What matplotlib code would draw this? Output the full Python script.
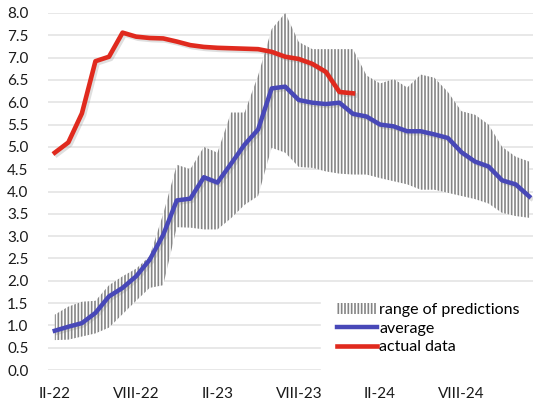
import matplotlib
matplotlib.use("Agg")
import matplotlib.pyplot as plt
import matplotlib.patheffects as pe
import numpy as np

# months from II-22 (index 0) to I-25 (index 35)
months = list(range(36))

actual = [4.87, 5.10, 5.75, 6.92, 7.02, 7.56, 7.47, 7.44, 7.43, 7.36, 7.28, 7.24,
          7.22, 7.21, 7.20, 7.19, 7.13, 7.02, 6.97, 6.86, 6.68, 6.23, 6.20]

average = [0.88, 0.97, 1.05, 1.28, 1.65, 1.84, 2.10, 2.47, 3.03, 3.80, 3.84, 4.32,
           4.20, 4.62, 5.05, 5.39, 6.31, 6.35, 6.05, 5.99, 5.96, 5.99, 5.74, 5.68,
           5.50, 5.46, 5.35, 5.35, 5.28, 5.20, 4.88, 4.67, 4.56, 4.25, 4.16, 3.89]

upper = [1.24, 1.42, 1.53, 1.55, 1.90, 2.10, 2.27, 2.55, 3.50, 4.60, 4.50, 5.00,
         4.87, 5.77, 5.77, 6.60, 7.64, 8.00, 7.35, 7.19, 7.19, 7.19, 7.19, 6.60,
         6.42, 6.52, 6.33, 6.62, 6.55, 6.23, 5.80, 5.72, 5.50, 5.00, 4.78, 4.67]

lower = [0.67, 0.68, 0.75, 0.82, 0.95, 1.25, 1.55, 1.84, 1.90, 3.20, 3.19, 3.15,
         3.15, 3.40, 3.70, 3.90, 4.98, 4.87, 4.55, 4.53, 4.45, 4.40, 4.38, 4.38,
         4.30, 4.23, 4.16, 4.04, 4.04, 3.97, 3.90, 3.83, 3.73, 3.52, 3.45, 3.41]

tick_pos = [0, 6, 12, 18, 24, 30]
tick_labels = ["II-22", "VIII-22", "II-23", "VIII-23", "II-24", "VIII-24"]
y_ticks = [0.0, 0.5, 1.0, 1.5, 2.0, 2.5, 3.0, 3.5, 4.0, 4.5, 5.0, 5.5, 6.0, 6.5, 7.0, 7.5, 8.0]

plt.rcParams['font.family'] = ['Lato', 'DejaVu Sans']
plt.rcParams['hatch.linewidth'] = 1.2
plt.rcParams['hatch.color'] = '#858585'

fig = plt.figure(figsize=(5.33, 4.04), dpi=100)
ax = fig.add_axes([48/533, 34/404, (536-48)/533, (370-13)/404])

ax.fill_between(months, lower, upper, facecolor='white', edgecolor='#858585',
                hatch='|||||', linewidth=0, label='range of predictions', zorder=2)

shadow = [pe.SimpleLineShadow(offset=(1.5, -1.5), alpha=0.25, shadow_color='gray'), pe.Normal()]
ax.plot(months, average, color='#4848b8', lw=3.2, label='average', zorder=3,
        solid_joinstyle='round', path_effects=shadow)
ax.plot(months[:len(actual)], actual, color='#e02a1e', lw=3.3, label='actual data', zorder=4,
        solid_joinstyle='round', path_effects=shadow)

ax.set_xlim(-0.5, 35.5)
ax.set_ylim(0, 8.0)
ax.set_yticks(y_ticks)
ax.set_yticklabels([f"{v:.1f}" for v in y_ticks])
ax.set_xticks(tick_pos)
ax.set_xticklabels(tick_labels)
ax.tick_params(axis='both', length=0, labelsize=11, colors='#1a1a1a')
ax.tick_params(axis='y', pad=14)
ax.tick_params(axis='x', pad=12)
ax.grid(axis='y', color='#e6e6e6', lw=1.3, zorder=0)
ax.set_axisbelow(True)
for s in ax.spines.values():
    s.set_visible(False)

leg = fig.legend(loc='upper left', bbox_to_anchor=(321/533, 1 - 287/404), frameon=True,
                 fontsize=11.5, handlelength=2.5, handleheight=0.7, handletextpad=0.15,
                 labelspacing=0.28, borderpad=1.0, borderaxespad=0)
leg.get_frame().set_facecolor('white')
leg.get_frame().set_edgecolor('white')
leg.get_frame().set_alpha(1)
leg.get_frame().set_boxstyle('square', pad=0)
for line in leg.get_lines():
    line.set_path_effects([])

fig.savefig("out.png", dpi=100)
